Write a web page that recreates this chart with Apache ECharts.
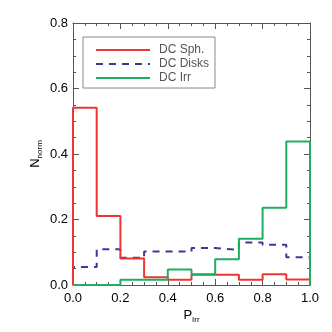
<!DOCTYPE html>
<html><head><meta charset="utf-8">
<script src="https://cdn.jsdelivr.net/npm/echarts@6/dist/echarts.min.js"></script>
<style>html,body{margin:0;padding:0;background:#fff}#c{width:332px;height:332px}</style>
</head><body><div id="c"></div>
<script>
// bin left edges (width 0.1)
const binStarts = [0.0, 0.1, 0.2, 0.3, 0.4, 0.5, 0.6, 0.7, 0.8, 0.9];
const binEnd = 1.0;
const sph   = [0.541, 0.211, 0.081, 0.024, 0.016, 0.031, 0.031, 0.016, 0.033, 0.017];
const disks = [0.055, 0.109, 0.083, 0.102, 0.102, 0.113, 0.107, 0.130, 0.123, 0.085];
const irr   = [0.000, 0.000, 0.016, 0.016, 0.047, 0.033, 0.079, 0.141, 0.236, 0.438];
const xTicks = ['0.0', '0.2', '0.4', '0.6', '0.8', '1.0'];
const yTicks = ['0.0', '0.2', '0.4', '0.6', '0.8'];
const names = ['DC Sph.', 'DC Disks', 'DC Irr'];

function steps(vals) {
  const pts = [[binStarts[0], 0]];
  vals.forEach((v, i) => pts.push([binStarts[i], v]));
  pts.push([binEnd, vals[vals.length - 1]]);
  pts.push([binEnd, 0]);
  return pts;
}
const frame = '#555';
const font = 'Liberation Sans, Arial, sans-serif';
function xAx(pos, show) {
  return {
    type: 'value', position: pos, min: 0, max: 1, interval: 0.2,
    axisLine: {show: true, onZero: false, lineStyle: {color: frame, width: 1}},
    axisTick: {show: true, inside: true, length: 6, lineStyle: {color: frame}},
    minorTick: {show: true, splitNumber: 4, length: 3, lineStyle: {color: frame}},
    splitLine: {show: false}, minorSplitLine: {show: false},
    axisLabel: {show: show, margin: 7, color: '#000', fontSize: 13, fontFamily: font,
      formatter: v => xTicks[Math.round(v / 0.2)]},
    name: show ? '{a|P}{b|Irr}' : '', nameLocation: 'middle', nameGap: 24, nameMoveOverlap: false,
    nameTextStyle: {rich: {
      a: {fontSize: 13, fontFamily: font, color: '#000', verticalAlign: 'top', lineHeight: 16},
      b: {fontSize: 8, fontFamily: font, color: '#000', verticalAlign: 'top', lineHeight: 16, padding: [7, 0, 0, 0]}
    }}
  };
}
function yAx(pos, show) {
  return {
    type: 'value', position: pos, min: 0, max: 0.8, interval: 0.2,
    axisLine: {show: true, onZero: false, lineStyle: {color: frame, width: 1}},
    axisTick: {show: true, inside: true, length: 6, lineStyle: {color: frame}},
    minorTick: {show: true, splitNumber: 4, length: 3, lineStyle: {color: frame}},
    splitLine: {show: false}, minorSplitLine: {show: false},
    axisLabel: {show: show, margin: 5, color: '#000', fontSize: 13, fontFamily: font,
      formatter: v => yTicks[Math.round(v / 0.2)]},
    name: show ? '{a|N}{b|norm}' : '', nameLocation: 'middle', nameGap: 28, nameRotate: 90, nameMoveOverlap: false,
    nameTextStyle: {rich: {
      a: {fontSize: 13, fontFamily: font, color: '#000', verticalAlign: 'top', lineHeight: 16},
      b: {fontSize: 8, fontFamily: font, color: '#000', verticalAlign: 'top', lineHeight: 16, padding: [7, 0, 0, 0]}
    }}
  };
}
const chart = echarts.init(document.getElementById('c'), null, {renderer: 'canvas'});
chart.setOption({
  animation: false,
  backgroundColor: '#fff',
  grid: {left: 73, right: 22, top: 23, bottom: 47, containLabel: false},
  xAxis: [xAx('bottom', true), xAx('top', false)],
  yAxis: [yAx('left', true), yAx('right', false)],
  legend: {
    orient: 'vertical', left: 83, top: 37,
    itemWidth: 54, itemHeight: 14, itemGap: 2,
    padding: [7, 6, 4, 12],
    borderColor: '#888', borderWidth: 1,
    itemStyle: {color: 'transparent', borderColor: 'transparent', borderWidth: 0},
    textStyle: {color: '#555', fontSize: 12, fontFamily: font, padding: [0, 0, 0, 4]},
    data: names
  },
  series: [
    {name: names[0], type: 'line', step: 'end', symbol: 'none', data: steps(sph),
     lineStyle: {color: '#f03434', width: 2}, itemStyle: {color: '#f03434'}, z: 3},
    {name: names[1], type: 'line', step: 'end', symbol: 'none', data: steps(disks),
     lineStyle: {color: '#3a3a98', width: 2, type: [7, 6]}, itemStyle: {color: '#3a3a98'}, z: 2},
    {name: names[2], type: 'line', step: 'end', symbol: 'none', data: steps(irr),
     lineStyle: {color: '#1eae5e', width: 2}, itemStyle: {color: '#1eae5e'}, z: 4}
  ]
});
</script></body></html>
